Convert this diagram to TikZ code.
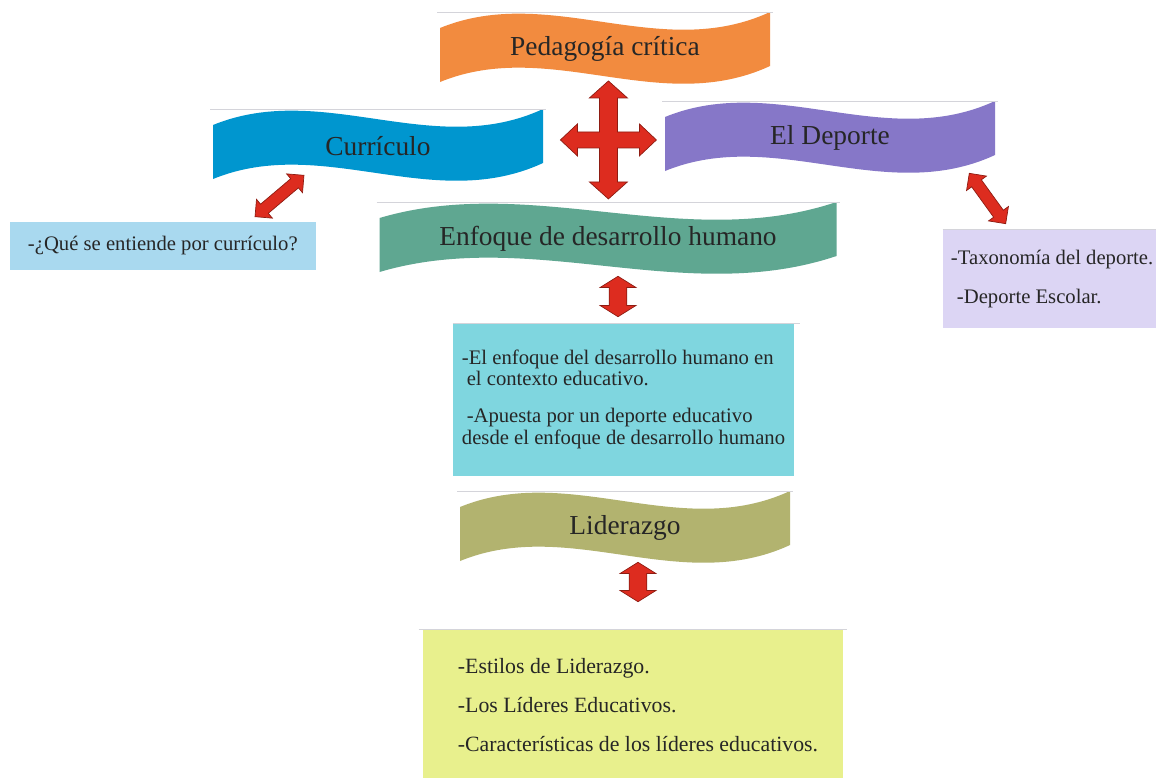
\documentclass[tikz,border=0pt]{standalone}
\usepackage{fontspec}
\setmainfont{Liberation Serif}
\usetikzlibrary{calc,shapes.arrows}

\definecolor{naranja}{HTML}{F28B3F}
\definecolor{azul}{HTML}{0096CF}
\definecolor{morado}{HTML}{8677C8}
\definecolor{verde}{HTML}{5FA791}
\definecolor{oliva}{HTML}{B2B36F}
\definecolor{celeste}{HTML}{A9D9EF}
\definecolor{lila}{HTML}{DCD5F4}
\definecolor{cian}{HTML}{7FD6DF}
\definecolor{amarillo}{HTML}{E8F08D}
\definecolor{rojo}{HTML}{DD2C1F}
\definecolor{borde}{HTML}{8E1C12}
\definecolor{gris}{HTML}{D4D4DA}
\definecolor{texto}{HTML}{262626}

% banda ondulada: nombre, x, y, ancho, color, texto
\newcommand{\banda}[6]{%
  \fill[#5] ({#2-#4/2},{#3-21}) .. controls ({#2-#4/6},{#3-66}) and ({#2+#4/6},{#3+14}) .. ({#2+#4/2},{#3-37})
    -- ({#2+#4/2},{#3+17}) .. controls ({#2+#4/6},{#3+68}) and ({#2-#4/6},{#3-12}) .. ({#2-#4/2},{#3+33}) -- cycle;
  \draw[linea] ({#2-#4/2-3},{#3-37}) -- ({#2+#4/2+3},{#3-37});
  \node[titulo, minimum width={#4*0.025cm}] (#1) at (#2,#3) {#6};}

% flecha doble entre dos coordenadas: estilo, nombre, inicio, fin
\newcommand{\flechadoble}[4][flecha]{%
  \path let \p1=($(#4)-(#3)$) in
    node[#1, minimum height={veclen(\x1,\y1)}, rotate={atan2(\y1,\x1)}] (#2) at ($(#3)!0.5!(#4)$) {};}

\begin{document}
\begin{tikzpicture}[x=0.025cm, y=-0.025cm,
    titulo/.style={inner sep=0pt, minimum height=1.35cm, text=texto, font=\fontsize{19.5}{23}\selectfont},
    caja/.style={inner sep=0pt},
    lista/.style={anchor=west, inner sep=0pt, align=left, text=texto, font=\fontsize{14.7}{15.4}\selectfont},
    linea/.style={draw=gris, line width=0.6pt},
    flecha/.style={double arrow, fill=rojo, draw=borde, line width=0.5pt, inner xsep=0pt, inner ysep=6pt,
      double arrow head extend=6.5pt, double arrow tip angle=116},
    flechachica/.style={flecha, inner ysep=4pt, double arrow head extend=4.5pt, double arrow tip angle=90}]

  \clip (0,0) rectangle (1156,777);
  \fill[white] (0,0) rectangle (1156,777);

  % Bandas de colores
  \banda{ped}{605}{49}{330}{naranja}{Pedagogía crítica}
  \banda{cur}{378}{146}{330}{azul}{Currículo}
  \banda{dep}{830}{138}{330}{morado}{El Deporte}
  \banda{enf}{608}{239}{457}{verde}{Enfoque de desarrollo humano}
  \banda{lid}{625}{528}{330}{oliva}{Liderazgo}

  % Cajas con los temas
  \node[caja, fill=celeste, minimum width=7.65cm, minimum height=1.2cm] (cajacur) at (163,246) {};
  \node[lista] (txtcur) at ($(cajacur.west)+(18,0)$) {-¿Qué se entiende por currículo?};

  \node[caja, fill=lila, minimum width=5.675cm, minimum height=2.45cm] (cajadep) at (1056.5,279) {};
  \draw[linea] (cajadep.north west) -- (cajadep.north east);
  \node[lista] (txtdep) at ($(cajadep.west)+(8,0)$)
    {-Taxonomía del deporte.\\[12.3pt]\hspace*{0.15cm}-Deporte Escolar.};

  \node[caja, fill=cian, minimum width=8.525cm, minimum height=3.8cm] (cajaenf) at (623.5,400) {};
  \draw[linea] (cajaenf.north west) -- ($(cajaenf.north east)+(6,0)$);
  \node[lista] (txtenf) at ($(cajaenf.west)+(9,-1)$)
    {-El enfoque del desarrollo humano en\\
     \hspace*{0.12cm}el contexto educativo.\\[10.6pt]
     \hspace*{0.12cm}-Apuesta por un deporte educativo\\
     desde el enfoque de desarrollo humano};

  \node[caja, fill=amarillo, minimum width=10.5cm, minimum height=3.75cm] (cajalid) at (633,705) {};
  \draw[linea] ($(cajalid.north west)+(-4,0)$) -- ($(cajalid.north east)+(4,0)$);
  \node[lista, font=\fontsize{15.5}{16.5}\selectfont] (txtlid) at ($(cajalid.west)+(35,0)$)
    {-Estilos de Liderazgo.\\[11.5pt]-Los Líderes Educativos.\\[11.5pt]-Características de los líderes educativos.};

  % Cruz central
  \coordinate (centro) at ($(ped.south)!0.47!(enf.north)+(2,0)$);
  \filldraw[fill=rojo, draw=borde, line width=0.5pt, shift={(centro)}]
    (0,-59) -- (19,-42) -- (9,-42) -- (9,-8) -- (31,-8) -- (31,-16) -- (48,0) -- (31,16) -- (31,8)
    -- (9,8) -- (9,42) -- (19,42) -- (0,59) -- (-19,42) -- (-9,42) -- (-9,8) -- (-31,8) -- (-31,16)
    -- (-48,0) -- (-31,-16) -- (-31,-8) -- (-9,-8) -- (-9,-42) -- (-19,-42) -- cycle;

  % Flechas dobles
  \coordinate (a1) at ($(cur.south)+(-74,2)$);
  \coordinate (b1) at ($(cajacur.north)+(92,-5)$);
  \flechadoble[flechachica]{f1}{b1}{a1}

  \coordinate (a2) at ($(dep.south east)+(-26,8)$);
  \coordinate (b2) at ($(cajadep.north west)+(63,-6)$);
  \flechadoble[flechachica]{f2}{a2}{b2}

  \coordinate (a3) at ($(enf.south)+(10,10)$);
  \coordinate (b3) at ($(cajaenf.north)+(-5.5,-7)$);
  \flechadoble{f3}{a3}{b3}

  \coordinate (a4) at ($(lid.south)+(13,7)$);
  \coordinate (b4) at ($(cajalid.north)+(5,-28)$);
  \flechadoble{f4}{a4}{b4}
\end{tikzpicture}
\end{document}
